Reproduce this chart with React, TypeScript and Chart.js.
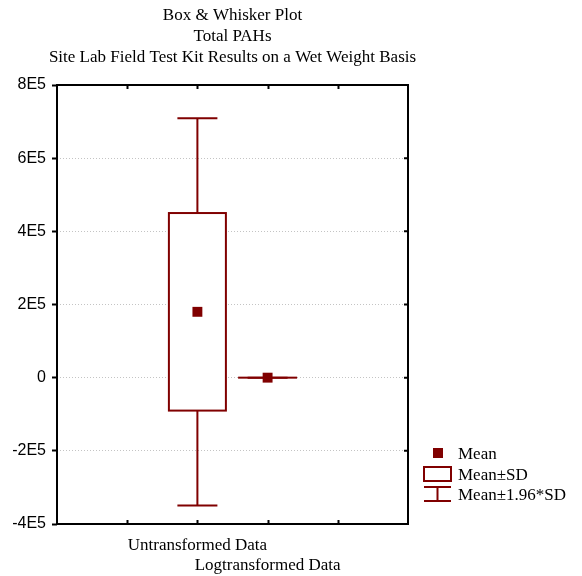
import React, { useEffect, useRef } from "react";
import { Chart, registerables } from "chart.js";

Chart.register(...registerables);

const titleLines = [
  "Box & Whisker Plot",
  "Total PAHs",
  "Site Lab Field Test Kit Results on a Wet Weight Basis",
];
const categories = ["Untransformed Data", "Logtransformed Data"];
const categoryPositions = [2, 3];
const means = [180000, 11.2];
const sds = [270000, 1.9];
const sdMultiplier = 1.96;
const yMin = -400000;
const yMax = 800000;
const yStep = 200000;
const xMin = 0;
const xMax = 5;
const legendLabels = ["Mean", "Mean±SD", "Mean±1.96*SD"];

const COLOR = "#800000";
const SERIF = "'Liberation Serif', 'Times New Roman', serif";
const SANS = "'Liberation Sans', Arial, sans-serif";

function fmtY(v: number): string {
  if (v === 0) return "0";
  return `${v / 100000}E5`;
}

const boxPlugin = {
  id: "boxWhisker",
  beforeDatasetsDraw(chart: any) {
    const { ctx, scales } = chart;
    const xs = scales.x;
    const ys = scales.y;
    ctx.save();
    ctx.strokeStyle = COLOR;
    ctx.lineWidth = 2;
    const boxHalf = 28.5;
    const capHalf = 20;
    categoryPositions.forEach((pos, i) => {
      const m = means[i];
      const s = sds[i];
      const px = xs.getPixelForValue(pos);
      const bTop = ys.getPixelForValue(m + s);
      const bBot = ys.getPixelForValue(m - s);
      const wTop = ys.getPixelForValue(m + sdMultiplier * s);
      const wBot = ys.getPixelForValue(m - sdMultiplier * s);
      ctx.beginPath();
      ctx.moveTo(px, bTop);
      ctx.lineTo(px, wTop);
      ctx.moveTo(px - capHalf, wTop);
      ctx.lineTo(px + capHalf, wTop);
      ctx.moveTo(px, bBot);
      ctx.lineTo(px, wBot);
      ctx.moveTo(px - capHalf, wBot);
      ctx.lineTo(px + capHalf, wBot);
      ctx.stroke();
      ctx.fillStyle = "#ffffff";
      ctx.fillRect(px - boxHalf, bTop, boxHalf * 2, bBot - bTop);
      ctx.strokeRect(px - boxHalf, bTop, boxHalf * 2, bBot - bTop);
    });
    ctx.restore();
  },
  afterDraw(chart: any) {
    const { ctx, chartArea, scales } = chart;
    const { left, right, top, bottom } = chartArea;
    const xs = scales.x;
    const ys = scales.y;
    ctx.save();
    // title, centred over the plot area
    ctx.font = `17px ${SERIF}`;
    ctx.fillStyle = "#000000";
    ctx.textAlign = "center";
    ctx.textBaseline = "alphabetic";
    const cx = (left + right) / 2;
    titleLines.forEach((line, i) => {
      ctx.fillText(line, cx, 20 + i * 21);
    });

    // frame
    ctx.strokeStyle = "#000000";
    ctx.lineWidth = 2;
    ctx.strokeRect(left, top, right - left, bottom - top);
    // inward ticks
    ctx.beginPath();
    xs.ticks.forEach((t: any) => {
      if (t.value <= xMin || t.value >= xMax) return;
      const px = Math.round(xs.getPixelForValue(t.value)) + 0.5;
      ctx.moveTo(px, top);
      ctx.lineTo(px, top + 4);
      ctx.moveTo(px, bottom);
      ctx.lineTo(px, bottom - 4);
    });
    ys.ticks.forEach((t: any) => {
      if (t.value <= yMin || t.value >= yMax) return;
      const py = ys.getPixelForValue(t.value);
      ctx.moveTo(right, py);
      ctx.lineTo(right - 4, py);
    });
    ctx.stroke();

    // legend
    const lx = right + 16;
    const tx = right + 50;
    ctx.textAlign = "left";
    ctx.textBaseline = "alphabetic";
    ctx.fillStyle = COLOR;
    ctx.fillRect(lx + 9, 448, 10, 10);
    ctx.fillStyle = "#000000";
    ctx.fillText(legendLabels[0], tx, 459);
    ctx.strokeStyle = COLOR;
    ctx.lineWidth = 2;
    ctx.strokeRect(lx, 467, 27, 14);
    ctx.fillText(legendLabels[1], tx, 480);
    ctx.beginPath();
    ctx.moveTo(lx, 487);
    ctx.lineTo(lx + 27, 487);
    ctx.moveTo(lx, 501);
    ctx.lineTo(lx + 27, 501);
    ctx.moveTo(lx + 13.5, 487);
    ctx.lineTo(lx + 13.5, 501);
    ctx.stroke();
    ctx.fillText(legendLabels[2], tx, 500);
    ctx.restore();
  },
};

export default function App() {
  const ref = useRef<HTMLCanvasElement | null>(null);
  useEffect(() => {
    if (!ref.current) return;
    const chart = new Chart(ref.current, {
      type: "scatter",
      data: {
        datasets: [
          {
            label: legendLabels[0],
            data: categoryPositions.map((p, i) => ({ x: p, y: means[i] })),
            pointStyle: "rect",
            pointRadius: 7,
            pointHoverRadius: 7,
            backgroundColor: COLOR,
            borderColor: COLOR,
            borderWidth: 0,
          },
        ],
      },
      options: {
        responsive: false,
        animation: false,
        layout: { padding: { left: 0, right: 174, top: 85, bottom: 0 } },
        plugins: {
          legend: { display: false },
          tooltip: { enabled: false },
          title: { display: false },
        },
        scales: {
          x: {
            type: "linear",
            min: xMin,
            max: xMax,
            afterFit(scale: any) {
              scale.height = 52;
            },
            ticks: {
              stepSize: 1,
              autoSkip: false,
              maxRotation: 0,
              minRotation: 0,
              padding: 4.5,
              color: "#000000",
              font: { family: SERIF, size: 17, lineHeight: 1.12 },
              callback: (v: any) => {
                const n = Number(v);
                const idx = categoryPositions.indexOf(n);
                if (idx < 0) return "";
                const lines: string[] = [];
                for (let k = 0; k < idx; k++) lines.push("");
                lines.push(categories[idx]);
                return lines.length === 1 ? lines[0] : lines;
              },
            },
            grid: { display: false },
            border: { display: false },
          },
          y: {
            type: "linear",
            min: yMin,
            max: yMax,
            afterFit(scale: any) {
              scale.width = 57;
            },
            ticks: {
              stepSize: yStep,
              padding: 6,
              color: "#000000",
              font: { family: SANS, size: 16 },
              callback: (v: any) => fmtY(Number(v)),
            },
            grid: {
              display: true,
              drawOnChartArea: true,
              drawTicks: true,
              tickLength: 5,
              tickColor: "#000000",
              tickWidth: 2,
              color: "#c4c4c4",
              lineWidth: 1,
            },
            border: { display: false, dash: [1, 2] },
          },
        },
      },
      plugins: [boxPlugin],
    });
    return () => chart.destroy();
  }, []);
  return (
    <div style={{ position: "absolute", left: 0, top: 0, width: 582, height: 576 }}>
      <canvas ref={ref} width={582} height={576} />
    </div>
  );
}
